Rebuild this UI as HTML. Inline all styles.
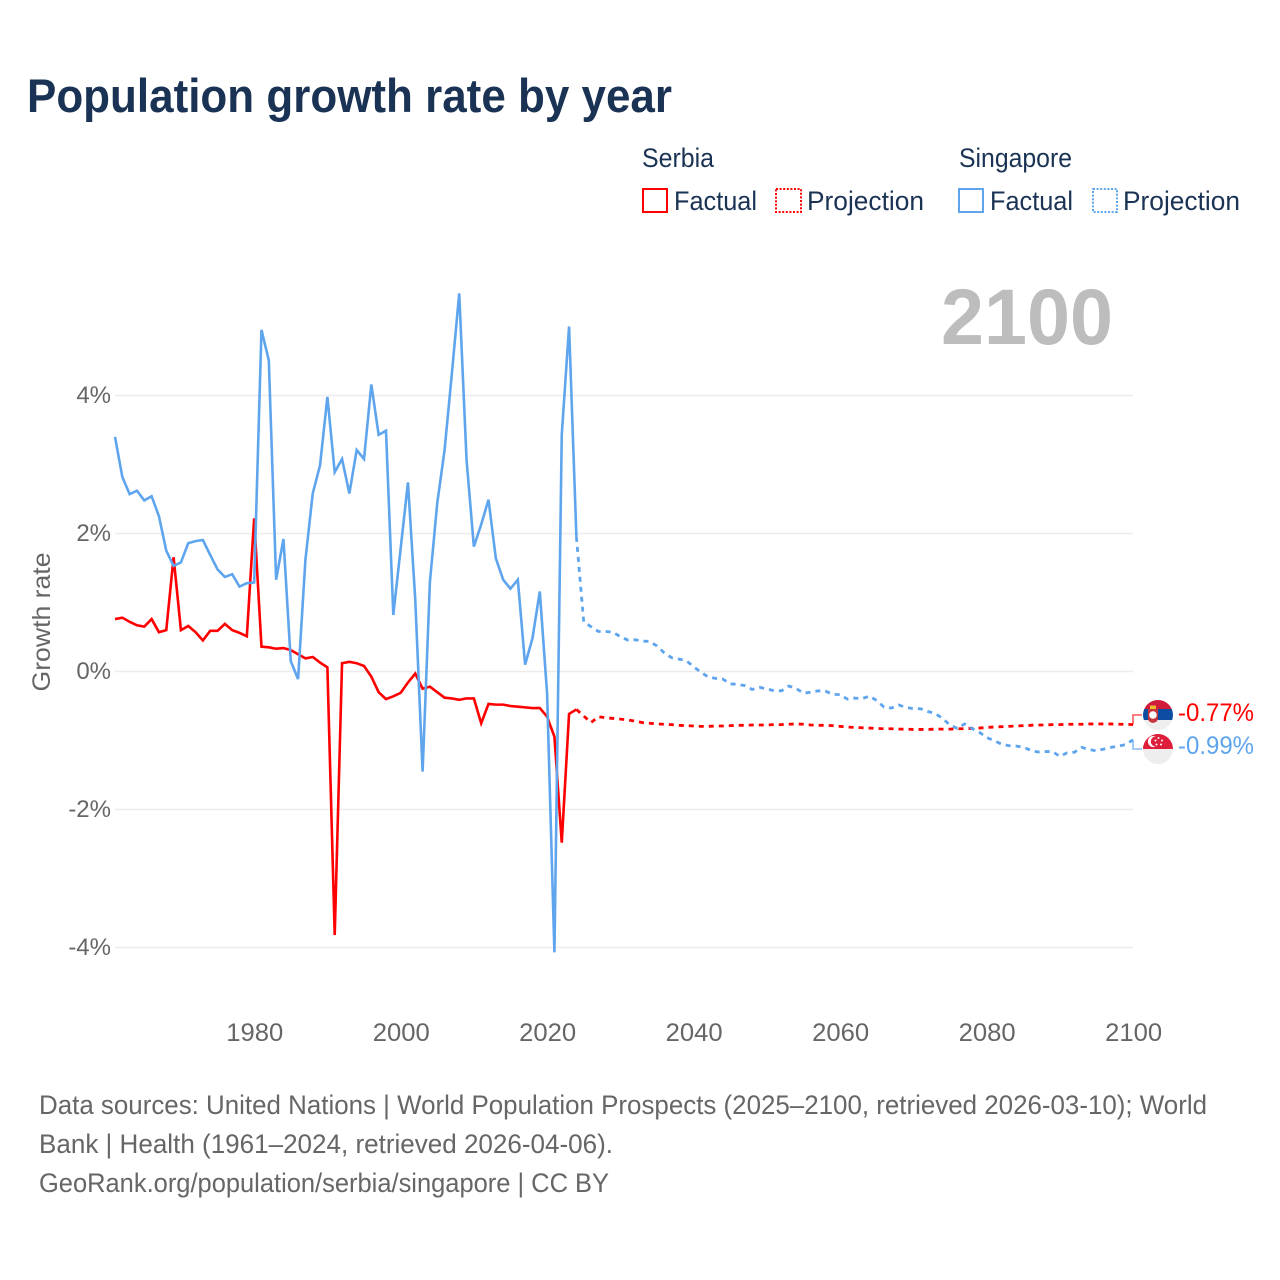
<!DOCTYPE html>
<html lang="en">
<head>
<meta charset="utf-8">
<title>Population growth rate by year</title>
<style>
html,body{margin:0;padding:0;background:#fff;}
svg{display:block;font-family:"Liberation Sans",sans-serif;}
</style>
</head>
<body>
<svg id="chart" xmlns="http://www.w3.org/2000/svg" width="1280" height="1280" viewBox="0 0 1280 1280">
  <defs>
    <clipPath id="clip-serbia"><circle cx="1158" cy="715" r="15"/></clipPath>
    <clipPath id="clip-singapore"><circle cx="1158" cy="749" r="15"/></clipPath>
  </defs>
  <rect x="0" y="0" width="1280" height="1280" fill="#fff"/>
  <text x="27" y="112" font-size="47" font-weight="700" fill="#1a3354" textLength="645" lengthAdjust="spacingAndGlyphs">Population growth rate by year</text>

  <g font-size="26.5" fill="#1a3354">
    <text x="642" y="167" textLength="72" lengthAdjust="spacingAndGlyphs">Serbia</text>
    <rect x="643" y="189" width="24" height="23" fill="none" stroke="#ff0000" stroke-width="2"/>
    <text x="674" y="210" textLength="83" lengthAdjust="spacingAndGlyphs">Factual</text>
    <rect x="776" y="189" width="25" height="23" fill="none" stroke="#ff0000" stroke-width="2" stroke-dasharray="2 1.6"/>
    <text x="807" y="210" textLength="117" lengthAdjust="spacingAndGlyphs">Projection</text>
    <text x="959" y="167" textLength="113" lengthAdjust="spacingAndGlyphs">Singapore</text>
    <rect x="959" y="189" width="24" height="23" fill="none" stroke="#5ea5ee" stroke-width="2"/>
    <text x="990" y="210" textLength="83" lengthAdjust="spacingAndGlyphs">Factual</text>
    <rect x="1093" y="189" width="24" height="23" fill="none" stroke="#5ea5ee" stroke-width="2" stroke-dasharray="2 1.6"/>
    <text x="1123" y="210" textLength="117" lengthAdjust="spacingAndGlyphs">Projection</text>
  </g>

  <text x="941" y="344" font-size="79" font-weight="700" fill="#bdbdbd" textLength="172" lengthAdjust="spacingAndGlyphs">2100</text>

  <g id="grid"></g>
  <g id="yticks" font-size="24" fill="#666" text-anchor="end"></g>
  <g id="xticks" font-size="25" fill="#666" text-anchor="middle"></g>
  <text transform="translate(50,622) rotate(-90)" font-size="25" fill="#666" text-anchor="middle" textLength="139" lengthAdjust="spacingAndGlyphs">Growth rate</text>

  <g id="series"></g>

  <g clip-path="url(#clip-serbia)">
    <rect x="1143" y="720" width="30" height="10" fill="#eeeeee"/>
    <rect x="1143" y="709" width="30" height="11" fill="#0c4da2"/>
    <rect x="1143" y="700" width="30" height="9" fill="#d01c3a"/>
    <path d="M1148 709H1158V718Q1158 722 1153 723Q1148 722 1148 718Z" fill="#c6363c"/>
    <circle cx="1153" cy="715" r="3.8" fill="#fff"/>
    <rect x="1150" y="705.5" width="6" height="3.5" fill="#edb92e"/>
  </g>
  <g clip-path="url(#clip-singapore)">
    <rect x="1143" y="749" width="30" height="15" fill="#eeeeee"/>
    <rect x="1143" y="734" width="30" height="15" fill="#df1e3c"/>
    <circle cx="1153.5" cy="741.5" r="5.6" fill="#fff"/>
    <circle cx="1156" cy="741.5" r="5.2" fill="#df1e3c"/>
    <g fill="#fff">
      <circle cx="1158.5" cy="738" r="1"/>
      <circle cx="1162" cy="740.5" r="1"/>
      <circle cx="1161" cy="744.5" r="1"/>
      <circle cx="1156.5" cy="744.5" r="1"/>
      <circle cx="1155.5" cy="740.5" r="1"/>
    </g>
  </g>

  <text id="label-serbia" x="1178" y="721" font-size="25" fill="#ff0000" textLength="76" lengthAdjust="spacingAndGlyphs"></text>
  <text id="label-singapore" x="1178" y="754" font-size="25" fill="#5ea5ee" textLength="76" lengthAdjust="spacingAndGlyphs"></text>

  <g font-size="26.5" fill="#666">
    <text x="39" y="1114" textLength="1168" lengthAdjust="spacingAndGlyphs">Data sources: United Nations | World Population Prospects (2025–2100, retrieved 2026-03-10); World</text>
    <text x="39" y="1153" textLength="574" lengthAdjust="spacingAndGlyphs">Bank | Health (1961–2024, retrieved 2026-04-06).</text>
    <text x="39" y="1192" textLength="570" lengthAdjust="spacingAndGlyphs">GeoRank.org/population/serbia/singapore | CC BY</text>
  </g>
</svg>
<script>
const xTickLabels = [1980, 2000, 2020, 2040, 2060, 2080, 2100];
const yTickLabels = [4, 2, 0, -2, -4];
const factualYears = [1961,1962,1963,1964,1965,1966,1967,1968,1969,1970,1971,1972,1973,1974,1975,1976,1977,1978,1979,1980,1981,1982,1983,1984,1985,1986,1987,1988,1989,1990,1991,1992,1993,1994,1995,1996,1997,1998,1999,2000,2001,2002,2003,2004,2005,2006,2007,2008,2009,2010,2011,2012,2013,2014,2015,2016,2017,2018,2019,2020,2021,2022,2023,2024];
const projectionYears = [2024,2025,2026,2027,2028,2029,2030,2031,2032,2033,2034,2035,2036,2037,2038,2039,2040,2041,2042,2043,2044,2045,2046,2047,2048,2049,2050,2051,2052,2053,2054,2055,2056,2057,2058,2059,2060,2061,2062,2063,2064,2065,2066,2067,2068,2069,2070,2071,2072,2073,2074,2075,2076,2077,2078,2079,2080,2081,2082,2083,2084,2085,2086,2087,2088,2089,2090,2091,2092,2093,2094,2095,2096,2097,2098,2099,2100];
const serbiaFactual = [0.76,0.78,0.72,0.67,0.65,0.76,0.57,0.60,1.655,0.60,0.66,0.57,0.45,0.59,0.59,0.69,0.60,0.56,0.51,2.22,0.36,0.35,0.33,0.34,0.31,0.25,0.19,0.21,0.13,0.06,-3.82,0.12,0.14,0.12,0.08,-0.075,-0.30,-0.40,-0.36,-0.31,-0.16,-0.03,-0.25,-0.22,-0.30,-0.38,-0.39,-0.41,-0.39,-0.39,-0.75,-0.47,-0.48,-0.48,-0.50,-0.51,-0.52,-0.53,-0.53,-0.655,-0.945,-2.48,-0.615,-0.55];
const singaporeFactual = [3.40,2.82,2.57,2.62,2.48,2.54,2.25,1.75,1.53,1.58,1.86,1.89,1.906,1.69,1.48,1.37,1.41,1.23,1.28,1.29,4.95,4.51,1.33,1.92,0.15,-0.11,1.62,2.58,2.99,3.98,2.89,3.08,2.58,3.21,3.08,4.16,3.43,3.49,0.82,1.78,2.74,1.04,-1.45,1.30,2.44,3.21,4.32,5.48,3.07,1.81,2.13,2.49,1.64,1.33,1.20,1.33,0.10,0.48,1.16,-0.32,-4.07,3.43,5.00,1.95];
const serbiaProjection = [-0.55,-0.645,-0.74,-0.655,-0.67,-0.68,-0.69,-0.70,-0.72,-0.74,-0.75,-0.76,-0.765,-0.77,-0.78,-0.785,-0.79,-0.795,-0.795,-0.79,-0.79,-0.785,-0.78,-0.78,-0.775,-0.775,-0.775,-0.77,-0.77,-0.765,-0.76,-0.765,-0.775,-0.78,-0.78,-0.785,-0.795,-0.805,-0.81,-0.815,-0.82,-0.825,-0.83,-0.83,-0.835,-0.835,-0.84,-0.84,-0.84,-0.835,-0.835,-0.835,-0.83,-0.83,-0.825,-0.82,-0.81,-0.805,-0.80,-0.795,-0.79,-0.785,-0.78,-0.775,-0.775,-0.77,-0.77,-0.765,-0.765,-0.765,-0.76,-0.76,-0.76,-0.76,-0.765,-0.765,-0.77];
const singaporeProjection = [1.95,0.72,0.65,0.58,0.58,0.57,0.505,0.456,0.46,0.44,0.437,0.37,0.27,0.20,0.18,0.157,0.07,-0.01,-0.08,-0.10,-0.11,-0.18,-0.185,-0.205,-0.26,-0.23,-0.25,-0.28,-0.28,-0.21,-0.245,-0.315,-0.30,-0.28,-0.285,-0.33,-0.335,-0.40,-0.385,-0.395,-0.355,-0.42,-0.515,-0.53,-0.485,-0.52,-0.54,-0.54,-0.58,-0.61,-0.68,-0.775,-0.825,-0.76,-0.825,-0.88,-0.955,-1.00,-1.05,-1.075,-1.08,-1.095,-1.14,-1.167,-1.16,-1.16,-1.23,-1.18,-1.17,-1.10,-1.13,-1.15,-1.125,-1.10,-1.08,-1.06,-0.99];
const endValueLabels = ["-0.77%", "-0.99%"];

const SVG_NS = "http://www.w3.org/2000/svg";
const xScale = function (year) { return 115 + (year - 1961) * (1133 - 115) / (2100 - 1961); };
const yScale = function (value) { return 671.5 - value * 69; };
const pathFrom = function (years, values) {
  return values.map(function (v, i) {
    return (i ? "L" : "M") + xScale(years[i]).toFixed(2) + " " + yScale(v).toFixed(2);
  }).join("");
};

const gridGroup = document.getElementById("grid");
const yTickGroup = document.getElementById("yticks");
yTickLabels.forEach(function (tick) {
  const line = document.createElementNS(SVG_NS, "line");
  
  
  line.setAttribute("x1", xScale(1961));
  line.setAttribute("x2", xScale(2100));
  line.setAttribute("y1", yScale(tick));
  line.setAttribute("y2", yScale(tick));
  line.setAttribute("stroke", "#ececec");
  line.setAttribute("stroke-width", "1.5");
  gridGroup.appendChild(line);
  const label = document.createElementNS(SVG_NS, "text");
  
  
  label.setAttribute("x", 111);
  label.setAttribute("y", yScale(tick) + 7.5);
  label.textContent = tick + "%";
  yTickGroup.appendChild(label);
});

const xTickGroup = document.getElementById("xticks");
xTickLabels.forEach(function (tick) {
  const label = document.createElementNS(SVG_NS, "text");
  
  
  label.setAttribute("x", xScale(tick) + 0.6);
  label.setAttribute("y", 1041);
  label.setAttribute("textLength", "57");
  label.setAttribute("lengthAdjust", "spacingAndGlyphs");
  label.textContent = tick;
  xTickGroup.appendChild(label);
});

const seriesGroup = document.getElementById("series");
const addLine = function (name, d, color, dash, width, opacity) {
  const path = document.createElementNS(SVG_NS, "path");
  
  
  path.setAttribute("d", d);
  path.setAttribute("fill", "none");
  path.setAttribute("stroke", color);
  path.setAttribute("stroke-width", width);
  path.setAttribute("stroke-opacity", opacity);
  if (dash) path.setAttribute("stroke-dasharray", dash);
  seriesGroup.appendChild(path);
};

const RED = "#ff0000";
const BLUE = "#5ea5ee";
addLine("line-serbia-factual", pathFrom(factualYears, serbiaFactual), RED, "", 2.6, 1);
addLine("line-serbia-projection", pathFrom(projectionYears, serbiaProjection), RED, "5 5", 2.8, 1);
addLine("line-singapore-factual", pathFrom(factualYears, singaporeFactual), BLUE, "", 2.6, 1);
addLine("line-singapore-projection", pathFrom(projectionYears, singaporeProjection), BLUE, "5 5", 2.8, 1);

const endX = xScale(2100);
const serbiaEndY = yScale(serbiaProjection[serbiaProjection.length - 1]);
const singaporeEndY = yScale(singaporeProjection[singaporeProjection.length - 1]);
addLine("connector-serbia", "M" + endX + " " + serbiaEndY + "L" + endX + " 715L1142 715", RED, "", 1.6, 0.65);
addLine("connector-singapore", "M" + endX + " " + singaporeEndY + "L" + endX + " 749L1142 749", BLUE, "", 1.6, 0.75);

document.getElementById("label-serbia").textContent = endValueLabels[0];
document.getElementById("label-singapore").textContent = endValueLabels[1];
</script>
</body>
</html>
